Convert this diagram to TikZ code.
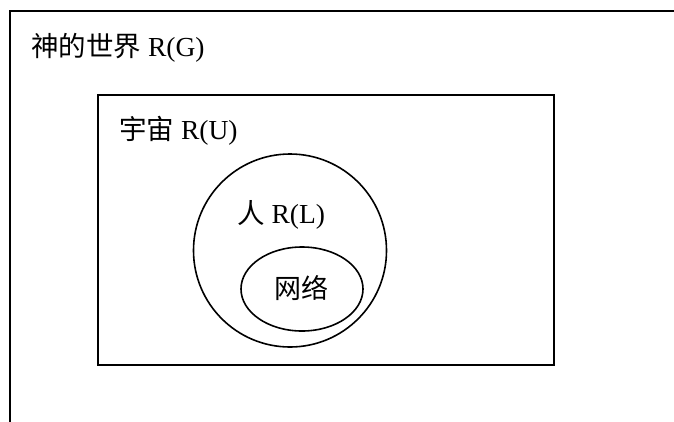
\documentclass[tikz,border=0pt]{standalone}
\usepackage{fontspec}
\setmainfont{Liberation Serif}
\newfontfamily\cjk{Noto Sans CJK SC}
\usetikzlibrary{shapes.geometric}
\tikzset{
  frame/.style={draw=black, line width=1.6pt},
  label/.style={inner sep=0pt, anchor=base west, font=\fontsize{27.5}{32}\selectfont},
}
\begin{document}
\begin{tikzpicture}[x=1pt,y=-1pt]
\useasboundingbox (0,0) rectangle (674,421);
% outer world frame (extends beyond the picture)
\draw[frame] (10,440) -- (10,11) -- (700,11);
\node[label] (g) at (31,56) {{\cjk 神的世界} R(G)};
% universe
\node[frame, rectangle, minimum width=456pt, minimum height=270pt, inner sep=0pt] (u) at (326,230) {};
\node[label] (ut) at (119,139) {{\cjk 宇宙} R(U)};
% human
\node[frame, circle, minimum size=193pt, inner sep=0pt] (l) at (290,250.5) {};
\node[label] (lt) at (237,223) {{\cjk 人} R(L)};
% network
\node[frame, ellipse, minimum width=122pt, minimum height=84pt, inner sep=0pt] (n) at (302,289) {};
\node[inner sep=0pt, font=\fontsize{27}{32}\selectfont\cjk] (nt) at (301,288) {网络};
\end{tikzpicture}
\end{document}
